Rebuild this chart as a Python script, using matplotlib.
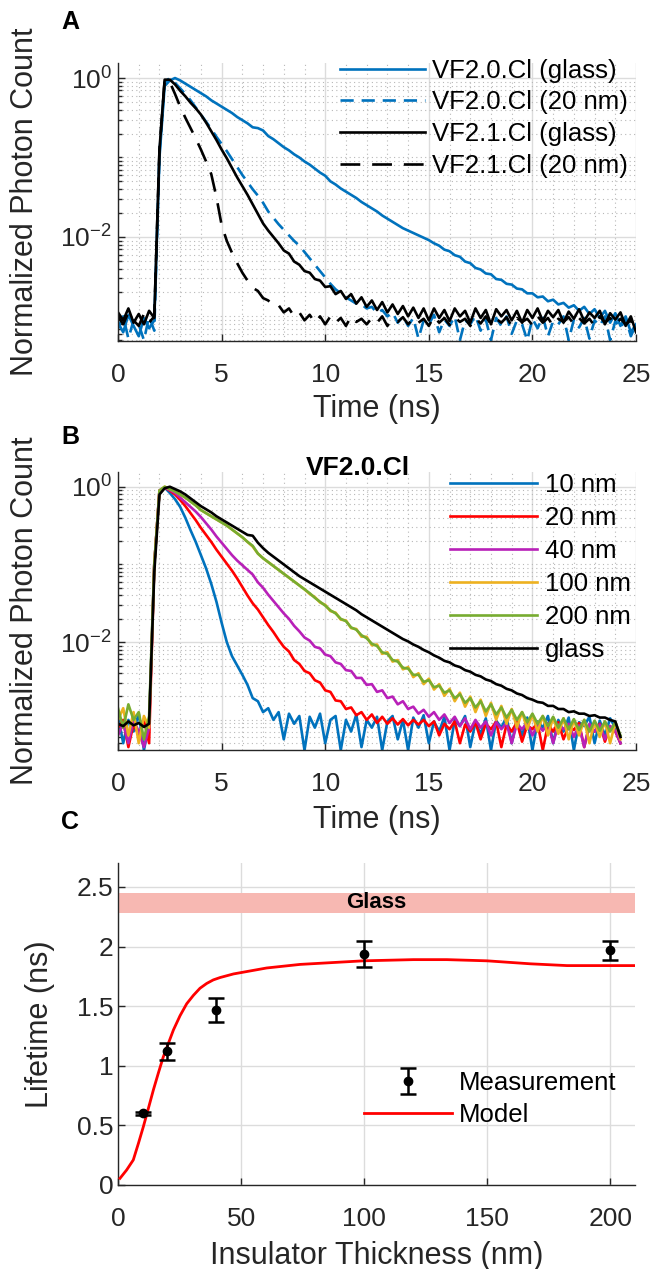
import numpy as np
import matplotlib
matplotlib.use("Agg")
import matplotlib.pyplot as plt
from matplotlib import font_manager
from matplotlib.ticker import LogLocator, FixedLocator, FixedFormatter, MultipleLocator, NullFormatter

plt.rcParams['font.family'] = ['Liberation Sans', 'DejaVu Sans']
plt.rcParams['mathtext.fontset'] = 'custom'
plt.rcParams['mathtext.rm'] = 'Liberation Sans'
plt.rcParams['mathtext.default'] = 'regular'

# ---------------- data: panel A (log10 of normalized counts, 0.25 ns sampling) ----
time_a_step = 0.25
vf20_glass_log = [
    -3.08, -3.20, -2.98, -3.12, -3.25, -3.02, -3.15, -3.05,
    -1.00, -0.10, -0.03, 0.00, -0.03, -0.07, -0.11, -0.15,
    -0.19, -0.23, -0.28, -0.32, -0.36, -0.40, -0.44, -0.49,
    -0.53, -0.57, -0.62, -0.63, -0.66, -0.73, -0.77, -0.82,
    -0.87, -0.91, -0.96, -1.00, -1.05, -1.09, -1.14, -1.19,
    -1.23, -1.30, -1.34, -1.39, -1.43, -1.47, -1.51, -1.56,
    -1.60, -1.64, -1.68, -1.73, -1.77, -1.81, -1.85, -1.89,
    -1.92, -1.95, -1.98, -2.01, -2.04, -2.08, -2.11, -2.16,
    -2.18, -2.23, -2.25, -2.31, -2.33, -2.39, -2.41, -2.46,
    -2.47, -2.53, -2.54, -2.59, -2.60, -2.65, -2.66, -2.71,
    -2.71, -2.76, -2.75, -2.81, -2.79, -2.85, -2.83, -2.89,
    -2.86, -2.93, -2.88, -2.97, -2.91, -3.02, -2.93, -3.08,
    -2.96, -3.12, -3.00, -3.20, -3.10]
vf20_20nm_log = [
    -3.15, -3.00, -3.28, -3.05, -3.10, -3.30, -3.00, -3.18,
    -0.95, -0.05, 0.00, -0.06, -0.13, -0.20, -0.28, -0.37,
    -0.46, -0.55, -0.64, -0.74, -0.83, -0.92, -1.02, -1.12,
    -1.22, -1.31, -1.40, -1.48, -1.57, -1.68, -1.76, -1.84,
    -1.91, -1.98, -2.05, -2.11, -2.19, -2.27, -2.35, -2.43,
    -2.51, -2.59, -2.66, -2.71, -2.76, -2.80, -2.84, -2.85,
    -2.90, -2.88, -2.96, -2.92, -3.00, -2.95, -3.08, -3.00,
    -3.12, -3.02, -3.28, -3.05, -3.10, -2.98, -3.20, -3.04,
    -3.12, -3.00, -3.30, -3.05, -3.10, -2.99, -3.18, -3.04,
    -3.30, -3.02, -3.12, -3.00, -3.22, -3.05, -3.10, -3.30,
    -3.03, -3.15, -3.00, -3.25, -3.06, -3.10, -3.00, -3.30,
    -3.04, -3.14, -3.02, -3.28, -3.05, -3.12, -3.00, -3.30,
    -3.06, -3.15, -3.02, -3.25, -3.10]
vf21_glass_log = [
    -2.95, -3.05, -2.90, -3.08, -2.97, -3.10, -2.93, -3.02,
    -0.90, -0.02, -0.02, -0.08, -0.16, -0.23, -0.31, -0.38,
    -0.46, -0.56, -0.67, -0.78, -0.90, -1.01, -1.13, -1.25,
    -1.36, -1.47, -1.59, -1.71, -1.83, -1.92, -2.00, -2.08,
    -2.17, -2.21, -2.31, -2.35, -2.43, -2.45, -2.53, -2.55,
    -2.63, -2.62, -2.72, -2.68, -2.78, -2.72, -2.84, -2.76,
    -2.88, -2.80, -2.92, -2.82, -2.95, -2.85, -2.97, -2.87,
    -3.00, -2.89, -3.02, -2.90, -3.05, -2.90, -3.02, -2.92,
    -3.06, -2.90, -3.00, -2.93, -3.08, -2.90, -3.02, -2.92,
    -3.10, -2.91, -3.00, -2.92, -3.05, -2.93, -3.08, -2.92,
    -3.02, -2.90, -3.06, -2.93, -3.01, -2.92, -3.08, -2.94,
    -3.03, -2.91, -3.06, -2.95, -3.02, -2.93, -3.10, -2.96,
    -3.04, -2.95, -3.12, -3.00, -3.20]
vf21_20nm_log = [
    -3.00, -3.10, -2.95, -3.05, -3.12, -2.97, -3.08, -3.00,
    -0.90, -0.03, -0.05, -0.20, -0.36, -0.50, -0.63, -0.76,
    -0.90, -1.05, -1.21, -1.50, -1.85, -2.05, -2.20, -2.33,
    -2.45, -2.55, -2.64, -2.68, -2.77, -2.80, -2.87, -2.86,
    -2.95, -2.90, -3.00, -2.95, -3.05, -2.98, -3.08, -3.00,
    -3.10, -3.00, -3.08, -3.02, -3.12, -3.00, -3.07, -3.03,
    -3.10, -3.02, -3.08, -3.00, -3.12, -3.03, -3.07, -3.01,
    -3.10, -3.02, -3.08, -3.03, -3.12, -3.00, -3.08, -3.02,
    -3.11, -3.01, -3.07, -3.03, -3.12, -3.02, -3.09, -3.00,
    -3.10, -3.03, -3.08, -3.01, -3.12, -3.02, -3.07, -3.03,
    -3.11, -3.00, -3.08, -3.02, -3.12, -3.03, -3.07, -3.01,
    -3.10, -3.02, -3.09, -3.03, -3.12, -3.00, -3.08, -3.02,
    -3.11, -3.03, -3.10, -3.05, -3.20]
labels_a = ['VF2.0.Cl (glass)', 'VF2.0.Cl (20 nm)', 'VF2.1.Cl (glass)', 'VF2.1.Cl (20 nm)']

# ---------------- data: panel B (VF2.0.Cl, various insulator thickness) ----------
time_b_step = 0.25
b_10nm_log = [
    -2.95, -3.30, -3.00, -3.15, -2.92, -3.39, -3.05, -1.00,
    -0.05, -0.01, -0.08, -0.16, -0.26, -0.40, -0.56, -0.71,
    -0.88, -1.05, -1.25, -1.48, -1.75, -2.00, -2.18, -2.30,
    -2.42, -2.55, -2.72, -2.76, -2.90, -2.85, -3.00, -2.90,
    -3.25, -2.92, -3.05, -2.95, -3.39, -2.96, -3.10, -2.92,
    -3.30, -3.00, -2.95, -3.39, -3.00, -3.15, -2.93, -3.35,
    -3.00, -3.10, -2.96, -3.39, -3.02, -2.95, -3.25, -3.00,
    -3.39, -2.97, -3.10, -2.94, -3.30, -3.02, -3.15, -2.96,
    -3.39, -3.00, -3.08, -2.95, -3.35, -3.03, -3.18, -2.98,
    -3.39, -3.01, -3.10, -2.96, -3.30, -3.00, -3.20, -2.97,
    -3.39, -3.02, -3.10, -2.95, -3.30, -3.00, -3.15, -2.97,
    -3.39, -3.03, -3.08, -2.96, -3.30, -3.01, -3.20, -2.98,
    -3.10, -3.30]
b_20nm_log = [
    -3.10, -3.00, -3.35, -3.05, -3.20, -3.00, -3.30, -1.00,
    -0.05, -0.01, -0.05, -0.10, -0.17, -0.25, -0.34, -0.43,
    -0.53, -0.62, -0.71, -0.81, -0.90, -0.99, -1.08, -1.18,
    -1.29, -1.40, -1.50, -1.58, -1.68, -1.78, -1.87, -1.97,
    -2.06, -2.12, -2.23, -2.28, -2.37, -2.40, -2.49, -2.52,
    -2.62, -2.64, -2.75, -2.76, -2.86, -2.84, -2.94, -2.90,
    -3.00, -2.93, -3.04, -2.96, -3.05, -2.98, -3.06, -2.99,
    -3.07, -3.00, -3.06, -3.00, -3.08, -3.02, -3.20, -3.05,
    -3.12, -3.02, -3.30, -3.06, -3.15, -3.03, -3.25, -3.05,
    -3.12, -3.02, -3.35, -3.06, -3.15, -3.03, -3.28, -3.07,
    -3.12, -3.04, -3.39, -3.06, -3.15, -3.03, -3.25, -3.08,
    -3.13, -3.04, -3.35, -3.07, -3.15, -3.05, -3.28, -3.08,
    -3.15, -3.30]
b_40nm_log = [
    -3.20, -3.05, -3.30, -3.00, -3.15, -3.35, -3.10, -1.00,
    -0.05, -0.01, -0.04, -0.08, -0.14, -0.20, -0.26, -0.32,
    -0.39, -0.47, -0.55, -0.64, -0.72, -0.80, -0.88, -0.95,
    -1.01, -1.07, -1.13, -1.23, -1.30, -1.39, -1.47, -1.55,
    -1.63, -1.70, -1.79, -1.86, -1.94, -1.98, -2.06, -2.08,
    -2.16, -2.18, -2.26, -2.28, -2.36, -2.37, -2.46, -2.46,
    -2.55, -2.54, -2.64, -2.62, -2.72, -2.70, -2.80, -2.76,
    -2.86, -2.83, -2.92, -2.87, -2.96, -2.90, -3.00, -2.93,
    -3.04, -2.96, -3.08, -2.98, -3.12, -3.00, -3.10, -3.02,
    -3.20, -3.03, -3.12, -3.04, -3.30, -3.05, -3.12, -3.03,
    -3.20, -3.06, -3.14, -3.04, -3.30, -3.06, -3.12, -3.05,
    -3.22, -3.07, -3.35, -3.05, -3.15, -3.06, -3.25, -3.08,
    -3.14, -3.30]
b_100nm_log = [
    -3.00, -2.85, -3.20, -2.90, -3.30, -2.95, -3.10, -1.00,
    -0.05, 0.00, -0.03, -0.06, -0.10, -0.14, -0.19, -0.24,
    -0.30, -0.34, -0.38, -0.42, -0.46, -0.50, -0.55, -0.60,
    -0.65, -0.71, -0.77, -0.86, -0.92, -0.97, -1.02, -1.07,
    -1.12, -1.17, -1.22, -1.27, -1.32, -1.38, -1.42, -1.49,
    -1.52, -1.60, -1.62, -1.71, -1.72, -1.82, -1.83, -1.93,
    -1.93, -2.04, -2.03, -2.15, -2.13, -2.25, -2.23, -2.35,
    -2.32, -2.45, -2.40, -2.54, -2.47, -2.61, -2.54, -2.69,
    -2.60, -2.76, -2.65, -2.83, -2.70, -2.90, -2.74, -2.95,
    -2.78, -3.00, -2.82, -3.05, -2.86, -3.10, -2.90, -3.12,
    -2.93, -3.15, -2.95, -3.20, -2.97, -3.18, -2.98, -3.25,
    -3.00, -3.20, -3.00, -3.30, -3.02, -3.22, -3.02, -3.30,
    -3.03, -3.25]
b_200nm_log = [
    -2.85, -3.10, -2.80, -3.00, -2.90, -3.25, -2.95, -1.00,
    -0.05, 0.00, -0.03, -0.06, -0.10, -0.14, -0.19, -0.24,
    -0.30, -0.34, -0.38, -0.42, -0.46, -0.50, -0.55, -0.60,
    -0.65, -0.71, -0.76, -0.86, -0.92, -0.97, -1.02, -1.07,
    -1.12, -1.17, -1.22, -1.27, -1.32, -1.37, -1.43, -1.48,
    -1.53, -1.59, -1.63, -1.70, -1.73, -1.81, -1.84, -1.91,
    -1.95, -2.02, -2.05, -2.13, -2.15, -2.23, -2.25, -2.33,
    -2.34, -2.42, -2.42, -2.51, -2.49, -2.58, -2.56, -2.65,
    -2.62, -2.72, -2.67, -2.78, -2.72, -2.84, -2.76, -2.89,
    -2.80, -2.93, -2.84, -2.97, -2.87, -3.00, -2.90, -3.03,
    -2.92, -3.05, -2.95, -3.08, -2.96, -3.10, -2.98, -3.12,
    -2.99, -3.13, -3.00, -3.15, -3.01, -3.14, -3.02, -3.15,
    -3.03, -3.20]
b_glass_log = [
    -3.05, -3.08, -3.02, -3.07, -3.04, -3.09, -3.05, -1.10,
    -0.10, -0.02, 0.00, -0.03, -0.06, -0.10, -0.15, -0.20,
    -0.25, -0.29, -0.33, -0.38, -0.42, -0.46, -0.50, -0.54,
    -0.58, -0.62, -0.63, -0.72, -0.79, -0.85, -0.90, -0.95,
    -1.00, -1.05, -1.10, -1.15, -1.19, -1.23, -1.27, -1.31,
    -1.35, -1.39, -1.43, -1.47, -1.51, -1.55, -1.59, -1.64,
    -1.68, -1.72, -1.76, -1.80, -1.84, -1.88, -1.92, -1.96,
    -1.99, -2.03, -2.06, -2.10, -2.13, -2.17, -2.20, -2.24,
    -2.26, -2.30, -2.32, -2.36, -2.38, -2.42, -2.44, -2.48,
    -2.50, -2.54, -2.56, -2.60, -2.62, -2.66, -2.68, -2.72,
    -2.74, -2.77, -2.78, -2.82, -2.82, -2.86, -2.86, -2.90,
    -2.89, -2.92, -2.92, -2.95, -2.94, -2.97, -2.97, -3.00,
    -3.02, -3.22]
labels_b = ['10 nm', '20 nm', '40 nm', '100 nm', '200 nm', 'glass']

# ---------------- data: panel C -------------------------------------------------
thickness_nm = [10, 20, 40, 100, 200]
lifetime_ns = [0.60, 1.12, 1.47, 1.94, 1.97]
lifetime_err = [0.01, 0.075, 0.10, 0.11, 0.08]
model_thickness = [0.8, 3.5, 6.2, 8.3, 10.3, 12.3, 14.4, 16.4, 18.4, 20.5, 22.5, 25.2,
                   27.9, 30.6, 33.3, 36.0, 38.7, 41.5, 46.9, 60.4, 74.0, 99.7, 120.0,
                   133.6, 149.9, 167.5, 182.4, 210.0]
model_lifetime = [0.056, 0.126, 0.21, 0.35, 0.49, 0.64, 0.80, 0.94, 1.075, 1.19, 1.30, 1.42,
                  1.52, 1.59, 1.65, 1.69, 1.72, 1.74, 1.77, 1.82, 1.85, 1.88, 1.89,
                  1.89, 1.88, 1.855, 1.84, 1.84]
glass_band = (2.28, 2.45)
c_yticks = [0, 0.5, 1, 1.5, 2, 2.5]
c_yticklabels = ['0', '0.5', '1', '1.5', '2', '2.5']
c_xticks = [0, 50, 100, 150, 200]

for arr in (vf20_glass_log, vf20_20nm_log, vf21_glass_log, vf21_20nm_log):
    assert len(arr) == 101, len(arr)
for arr in (b_10nm_log, b_20nm_log, b_40nm_log, b_100nm_log, b_200nm_log, b_glass_log):
    assert len(arr) == 98, len(arr)

time_a = np.arange(101) * time_a_step
time_b = np.arange(98) * time_b_step

# ---------------- styling ---------------------------------------------------------
TXT = '#262626'
MBLUE = '#0072BD'
GRID_MAJ = '#dcdcdc'
GRID_MIN = '#b8b8b8'
TICK_FS = 19
LABEL_FS = 22
LEG_FS = 18.5
LW = 1.9
XPAD = 16

installed = {f.name for f in font_manager.fontManager.ttflist}
letter_family = ['Liberation Sans Narrow', 'Liberation Sans'] if 'Liberation Sans Narrow' in installed else ['Liberation Sans']

fig = plt.figure(figsize=(6.51, 12.69), dpi=100)

def style_common(ax, xpad, ypad):
    for s in ('top', 'right'):
        ax.spines[s].set_visible(False)
    for s in ('left', 'bottom'):
        ax.spines[s].set_color(TXT)
        ax.spines[s].set_linewidth(1.0)
    ax.tick_params(which='both', direction='in', colors=TXT, labelsize=TICK_FS, width=1.0)
    ax.tick_params(which='major', length=5)
    ax.tick_params(which='minor', length=3)
    ax.tick_params(axis='x', which='major', pad=xpad)
    ax.tick_params(axis='y', which='major', pad=ypad)
    ax.set_axisbelow(True)

def style_log(ax, ymin):
    ax.set_yscale('log')
    ax.set_xlim(0, 25)
    ax.set_ylim(ymin, 1.55)
    ax.set_xticks([0, 5, 10, 15, 20, 25])
    ax.xaxis.set_minor_locator(MultipleLocator(1))
    ax.yaxis.set_major_locator(FixedLocator([1e-2, 1]))
    ax.yaxis.set_major_formatter(FixedFormatter([r'$\mathregular{10^{-2}}$', r'$\mathregular{10^{0}}$']))
    ax.yaxis.set_minor_locator(LogLocator(base=10, subs=(1.0, 2.0, 3.0, 4.0, 5.0, 6.0, 7.0, 8.0, 9.0), numticks=20))
    ax.yaxis.set_minor_formatter(NullFormatter())
    style_common(ax, XPAD, 4.5)
    ax.tick_params(axis='x', which='minor', length=0)
    ax.grid(True, which='major', color=GRID_MAJ, lw=1.0, ls='-')
    ax.grid(True, which='minor', color=GRID_MIN, lw=0.8, ls=(0, (1, 3)))
    ax.set_xlabel('Time (ns)', fontsize=LABEL_FS, color=TXT)
    ax.set_ylabel('Normalized Photon Count', fontsize=LABEL_FS, color=TXT)
    ax.xaxis.label.set_va('center')
    ax.yaxis.label.set_va('center')

# ---------------- panel A ---------------------------------------------------------
axA = fig.add_axes([0.1813, 0.7313, 0.7957, 0.2191])
style_log(axA, 4.9e-4)
axA.plot(time_a, 10 ** np.array(vf20_glass_log), color=MBLUE, lw=LW, label=labels_a[0])
axA.plot(time_a, 10 ** np.array(vf20_20nm_log), color=MBLUE, lw=LW, dashes=(5, 3), label=labels_a[1])
axA.plot(time_a, 10 ** np.array(vf21_glass_log), color='k', lw=LW, label=labels_a[2])
axA.plot(time_a, 10 ** np.array(vf21_20nm_log), color='k', lw=LW, dashes=(7.5, 4.5), label=labels_a[3])
axA.xaxis.set_label_coords(0.5, -0.245)
axA.yaxis.set_label_coords(-0.18, 0.5)
axA.legend(loc='upper right', bbox_to_anchor=(0.985, 1.015), frameon=False, fontsize=LEG_FS,
           handlelength=3.3, handletextpad=0.3, labelspacing=0.3, borderaxespad=0, borderpad=0)

# ---------------- panel B ---------------------------------------------------------
axB = fig.add_axes([0.1813, 0.4090, 0.7957, 0.2191])
style_log(axB, 4.1e-4)
b_series = [b_10nm_log, b_20nm_log, b_40nm_log, b_100nm_log, b_200nm_log, b_glass_log]
b_colors = [MBLUE, '#FF0000', '#B820B8', '#EDB120', '#77AC30', '#000000']
for vals, col, lab in zip(b_series, b_colors, labels_b):
    axB.plot(time_b, 10 ** np.array(vals), color=col, lw=LW, label=lab)
axB.xaxis.set_label_coords(0.5, -0.252)
axB.yaxis.set_label_coords(-0.18, 0.5)
axB.legend(loc='upper right', bbox_to_anchor=(0.99, 0.995), frameon=False, fontsize=LEG_FS,
           handlelength=3.4, handletextpad=0.3, labelspacing=0.35, borderaxespad=0, borderpad=0)
fig.text(0.55, 0.6312, 'VF2.0.Cl', fontsize=19, fontweight='bold', ha='center', va='center', color='k')

# ---------------- panel C ---------------------------------------------------------
axC = fig.add_axes([0.1813, 0.0662, 0.794, 0.2537])
axC.set_xlim(0, 210)
axC.set_ylim(0, 2.7)
axC.set_xticks(c_xticks)
axC.set_yticks(c_yticks)
axC.set_yticklabels(c_yticklabels)
style_common(axC, XPAD, 3.5)
axC.grid(True, which='major', color=GRID_MAJ, lw=1.0, ls='-')
axC.axhspan(glass_band[0], glass_band[1], color='#F7B8B2', lw=0, zorder=1)
axC.text(105, sum(glass_band) / 2, 'Glass', fontsize=16, fontweight='bold', ha='center',
         va='center', color='k', zorder=2)
meas = axC.errorbar(thickness_nm, lifetime_ns, yerr=lifetime_err, fmt='o', color='k', ms=6,
                    capsize=6, elinewidth=1.8, capthick=1.8, label='Measurement', zorder=4)
model_line, = axC.plot(model_thickness, model_lifetime, color='#FF0000', lw=2.0, label='Model', zorder=3)
axC.set_xlabel('Insulator Thickness (nm)', fontsize=LABEL_FS, color=TXT)
axC.set_ylabel('Lifetime (ns)', fontsize=LABEL_FS, color=TXT)
axC.xaxis.label.set_va('center')
axC.yaxis.label.set_va('center')
axC.xaxis.set_label_coords(0.5, -0.22)
axC.yaxis.set_label_coords(-0.15, 0.5)
axC.legend([meas, model_line], ['Measurement', 'Model'], loc='lower right',
           bbox_to_anchor=(0.965, 0.18), frameon=False, fontsize=LEG_FS,
           handlelength=3.4, handletextpad=0.3, labelspacing=0.3, borderaxespad=0, borderpad=0)

# ---------------- panel letters -----------------------------------------------------
for letter, yy in (('A', 0.9827), ('B', 0.6556), ('C', 0.3522)):
    fig.text(0.1075, yy, letter, fontsize=18, fontweight='bold', ha='center', va='center',
             color='k', family=letter_family)

fig.savefig('out.png', dpi=100)
